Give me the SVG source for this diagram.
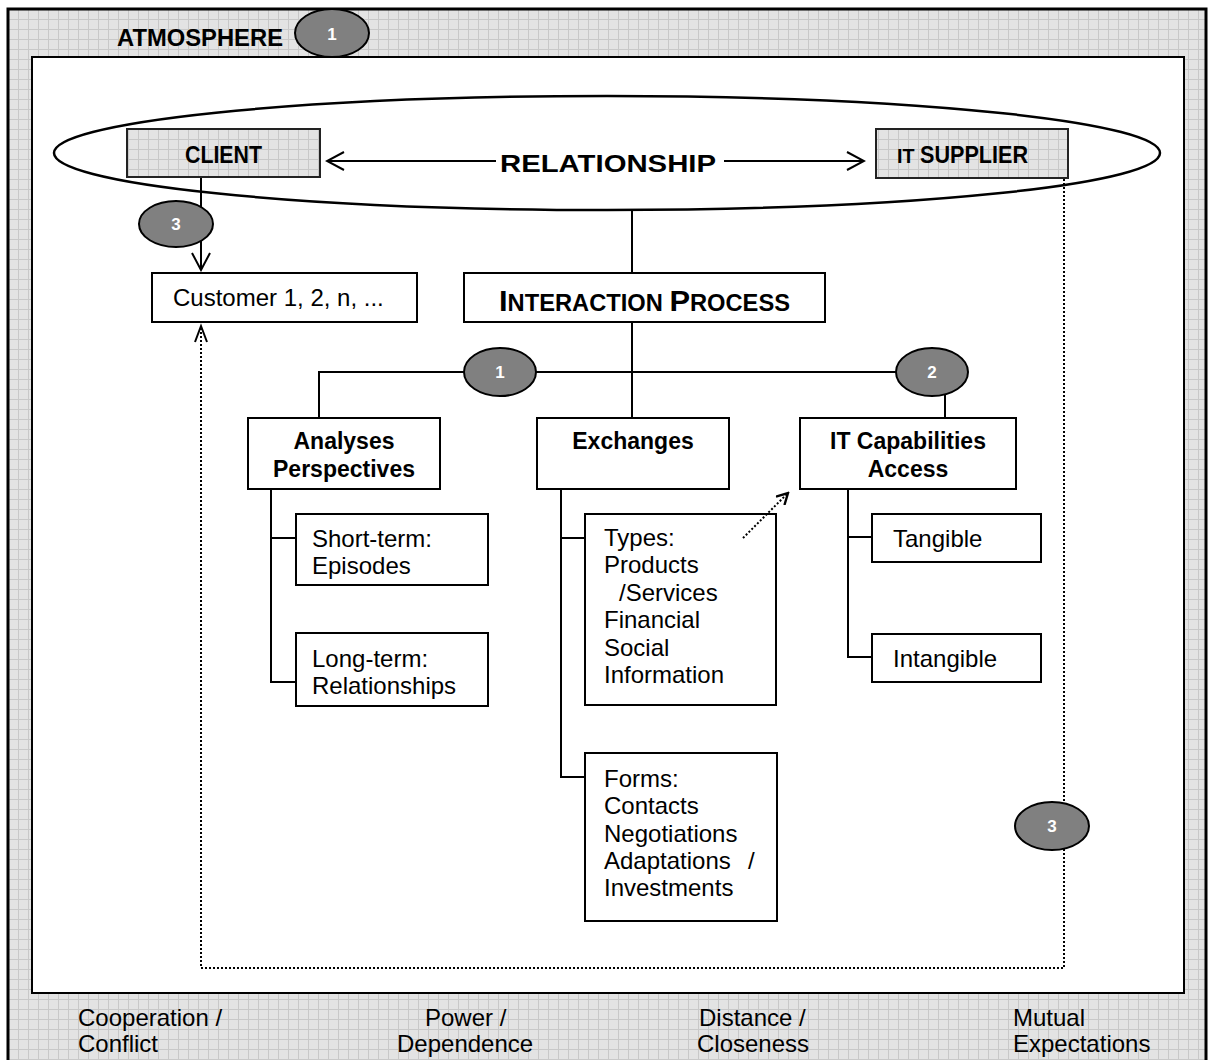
<svg xmlns="http://www.w3.org/2000/svg" width="1208" height="1060" viewBox="0 0 1208 1060">
<defs>
<pattern id="grid" patternUnits="userSpaceOnUse" x="8" y="9" width="10" height="10">
<rect width="10" height="10" fill="#e3e3e3"/>
<path d="M0 0.5H10M0.5 0V10" stroke="#c8c8c8" stroke-width="1" fill="none"/>
</pattern>
<marker id="vopen" viewBox="0 0 20 20" refX="18" refY="10" markerWidth="20" markerHeight="20" markerUnits="userSpaceOnUse" orient="auto">
<path d="M1 1L18 10L1 19" fill="none" stroke="#000" stroke-width="2"/>
</marker>
<marker id="vsmall" viewBox="0 0 14 14" refX="12" refY="7" markerWidth="14" markerHeight="14" markerUnits="userSpaceOnUse" orient="auto">
<path d="M1 1L12 7L1 13" fill="none" stroke="#000" stroke-width="2.4"/>
</marker>
</defs>
<style>
.box{fill:#fff;stroke:#000;stroke-width:2}
.gbox{fill:url(#grid);stroke:#222;stroke-width:2}
.ln{fill:none;stroke:#000;stroke-width:2}
.dot{fill:none;stroke:#000;stroke-width:2;stroke-dasharray:2 2}
.badge{fill:#808080;stroke:#000;stroke-width:2}
.bt{font-family:"Liberation Sans",Arial,sans-serif;font-weight:bold;font-size:17px;fill:#fff;text-anchor:middle}
.t{font-family:"Liberation Sans",Arial,sans-serif;font-size:24px;fill:#000}
.b{font-family:"Liberation Sans",Arial,sans-serif;font-size:23px;font-weight:bold;fill:#000}
.c{text-anchor:middle}
</style>
<rect x="8" y="9" width="1198" height="1062" fill="url(#grid)" stroke="#000" stroke-width="3"/>
<rect x="32" y="57" width="1152" height="936" fill="#fff" stroke="#000" stroke-width="2"/>
<g id="atmosphere">
<text class="b" x="117" y="46" font-size="27" textLength="166" lengthAdjust="spacingAndGlyphs">ATMOSPHERE</text>
<ellipse class="badge" cx="332" cy="33" rx="37" ry="24"/>
<text class="bt" x="332" y="40">1</text>
</g>
<g id="relationship">
<ellipse cx="607" cy="153" rx="553" ry="57" fill="none" stroke="#000" stroke-width="2.5"/>
<text class="b" x="500" y="172" font-size="31" textLength="216" lengthAdjust="spacingAndGlyphs">RELATIONSHIP</text>
</g>
<g id="client">
<rect class="gbox" x="127" y="129" width="193" height="48"/>
<text class="b" x="185" y="163" font-size="27" textLength="77" lengthAdjust="spacingAndGlyphs">CLIENT</text>
</g>
<g id="supplier">
<rect class="gbox" x="876" y="129" width="192" height="49"/>
<text class="b" x="897" y="163" font-size="27" textLength="131" lengthAdjust="spacingAndGlyphs"><tspan font-size="21">IT </tspan>SUPPLIER</text>
</g>
<g id="badge3a">
<ellipse class="badge" cx="176" cy="224" rx="37" ry="23"/>
<text class="bt" x="176" y="230">3</text>
</g>
<g id="customer">
<rect class="box" x="152" y="273" width="265" height="49"/>
<text class="t" x="173" y="306">Customer 1, 2, n, ...</text>
</g>
<g id="interaction">
<rect class="box" x="464" y="273" width="361" height="49"/>
<text class="b" x="499" y="311" font-size="25" textLength="291" lengthAdjust="spacingAndGlyphs"><tspan font-size="30">I</tspan>NTERACTION <tspan font-size="30">P</tspan>ROCESS</text>
</g>
<g id="badge1">
<ellipse class="badge" cx="500" cy="372" rx="36" ry="24"/>
<text class="bt" x="500" y="378">1</text>
</g>
<g id="badge2">
<ellipse class="badge" cx="932" cy="372" rx="36" ry="24"/>
<text class="bt" x="932" y="378">2</text>
</g>
<g id="analyses">
<rect class="box" x="248" y="418" width="192" height="71"/>
<text class="b c" x="344" y="449">Analyses</text>
<text class="b c" x="344" y="477">Perspectives</text>
</g>
<g id="exchanges">
<rect class="box" x="537" y="418" width="192" height="71"/>
<text class="b c" x="633" y="449">Exchanges</text>
</g>
<g id="itcap">
<rect class="box" x="800" y="418" width="216" height="71"/>
<text class="b c" x="908" y="449">IT Capabilities</text>
<text class="b c" x="908" y="477">Access</text>
</g>
<g id="shortterm">
<rect class="box" x="296" y="514" width="192" height="71"/>
<text class="t" x="312" y="547">Short-term:</text>
<text class="t" x="312" y="574">Episodes</text>
</g>
<g id="longterm">
<rect class="box" x="296" y="633" width="192" height="73"/>
<text class="t" x="312" y="667">Long-term:</text>
<text class="t" x="312" y="694">Relationships</text>
</g>
<g id="types">
<rect class="box" x="585" y="514" width="191" height="191"/>
<text class="t" x="604" y="546">Types:</text>
<text class="t" x="604" y="573">Products</text>
<text class="t" x="619" y="601">/Services</text>
<text class="t" x="604" y="628">Financial</text>
<text class="t" x="604" y="656">Social</text>
<text class="t" x="604" y="683">Information</text>
</g>
<g id="forms">
<rect class="box" x="585" y="753" width="192" height="168"/>
<text class="t" x="604" y="787">Forms:</text>
<text class="t" x="604" y="814">Contacts</text>
<text class="t" x="604" y="842">Negotiations</text>
<text class="t" x="604" y="869">Adaptations<tspan x="748">/</tspan></text>
<text class="t" x="604" y="896">Investments</text>
</g>
<g id="tangible">
<rect class="box" x="872" y="514" width="169" height="48"/>
<text class="t" x="893" y="547">Tangible</text>
</g>
<g id="intangible">
<rect class="box" x="872" y="634" width="169" height="48"/>
<text class="t" x="893" y="667">Intangible</text>
</g>
<g id="badge3b">
<ellipse class="badge" cx="1052" cy="826" rx="37" ry="24"/>
<text class="bt" x="1052" y="832">3</text>
</g>
<g id="dimensions">
<text class="t" x="78" y="1026">Cooperation /</text>
<text class="t" x="78" y="1052">Conflict</text>
<text class="t" x="425" y="1026">Power /</text>
<text class="t" x="397" y="1052">Dependence</text>
<text class="t" x="699" y="1026">Distance /</text>
<text class="t" x="697" y="1052">Closeness</text>
<text class="t" x="1013" y="1026">Mutual</text>
<text class="t" x="1013" y="1052">Expectations</text>
</g>
<g id="connectors">
<line class="ln" x1="496" y1="161" x2="327" y2="161" marker-end="url(#vopen)"/>
<line class="ln" x1="724" y1="161" x2="864" y2="161" marker-end="url(#vopen)"/>
<line class="ln" x1="201" y1="178" x2="201" y2="207"/>
<line class="ln" x1="201" y1="241" x2="201" y2="270" marker-end="url(#vopen)"/>
<path class="dot" d="M1064 179V803M1064 849V968H201V328"/>
<path class="ln" d="M195 342L201 326L207 342"/>
<line class="ln" x1="632" y1="209" x2="632" y2="273"/>
<line class="ln" x1="632" y1="322" x2="632" y2="418"/>
<path class="ln" d="M319 418V372H464M536 372H896M945 394V418"/>
<path class="ln" d="M271 489V682H296M271 538H296"/>
<path class="ln" d="M561 489V777H585M561 538H585"/>
<path class="ln" d="M848 489V657H872M848 537H872"/>
<line class="dot" x1="743" y1="538" x2="788" y2="493" stroke-width="2.6" stroke-dasharray="2 3" marker-end="url(#vsmall)"/>
</g>
</svg>
